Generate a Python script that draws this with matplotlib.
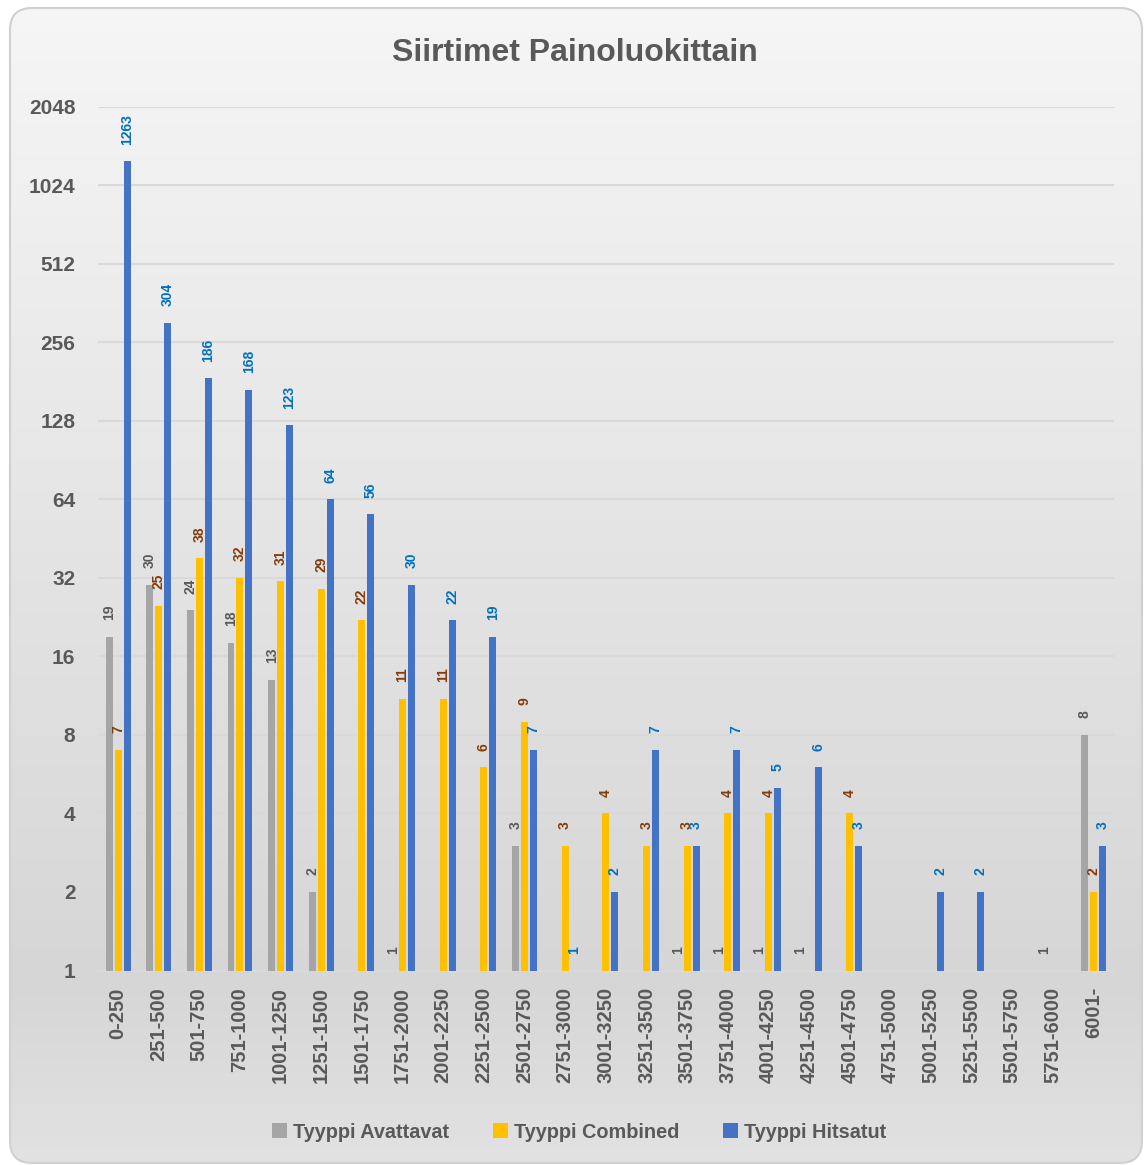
import numpy as np
import matplotlib
matplotlib.use("Agg")
import matplotlib.pyplot as plt
from matplotlib.patches import FancyBboxPatch, Patch

plt.rcParams['font.family'] = ['Liberation Sans', 'DejaVu Sans']

categories = ['0-250', '251-500', '501-750', '751-1000', '1001-1250', '1251-1500',
              '1501-1750', '1751-2000', '2001-2250', '2251-2500', '2501-2750',
              '2751-3000', '3001-3250', '3251-3500', '3501-3750', '3751-4000',
              '4001-4250', '4251-4500', '4501-4750', '4751-5000', '5001-5250',
              '5251-5500', '5501-5750', '5751-6000', '6001-']
avattavat = [19, 30, 24, 18, 13, 2, 0, 1, 0, 0, 3, 0, 0, 0, 1, 1, 1, 1, 0, 0, 0, 0, 0, 1, 8]
combined = [7, 25, 38, 32, 31, 29, 22, 11, 11, 6, 9, 3, 4, 3, 3, 4, 4, 0, 4, 0, 0, 0, 0, 0, 2]
hitsatut = [1263, 304, 186, 168, 123, 64, 56, 30, 22, 19, 7, 1, 2, 7, 3, 7, 5, 6, 3, 0, 2, 2, 0, 0, 3]
yticks = [1, 2, 4, 8, 16, 32, 64, 128, 256, 512, 1024, 2048]

series = [
    ('Tyyppi Avattavat', avattavat, '#A5A5A5', '#595959'),
    ('Tyyppi Combined', combined, '#FFC000', '#843C0C'),
    ('Tyyppi Hitsatut', hitsatut, '#4472C4', '#0070C0'),
]

W, H = 1144, 1165
fig = plt.figure(figsize=(W / 100, H / 100), dpi=100)
fig.patch.set_facecolor('white')

# rounded chart background with vertical grey gradient
bg = fig.add_axes([0, 0, 1, 1], zorder=-10)
bg.set_xlim(0, W)
bg.set_ylim(H, 0)
bg.axis('off')
rows = np.arange(H)
shade = np.interp(rows, [0, 980, H], [246, 214, 226]) / 255.0
grad = np.repeat(shade[:, None, None], 3, axis=2)
box = FancyBboxPatch((10, 8), W - 12, H - 10, boxstyle='round,pad=0,rounding_size=22',
                     facecolor='none', edgecolor='#D0D0D0', linewidth=1.5)
bg.add_patch(box)
im = bg.imshow(grad, extent=[0, W, H, 0], aspect='auto', interpolation='bilinear')
im.set_clip_path(box)

ax = fig.add_axes([97.7 / W, 1 - 970.5 / H, (1114 - 97.7) / W, (970.5 - 106.5) / H])
ax.set_facecolor('none')
ax.set_yscale('log', base=2)
ax.set_ylim(1, 2048)
ax.set_xlim(-0.5, len(categories) - 0.5)

x = np.arange(len(categories))
bw = 0.172
step = 0.221
for i, (name, vals, col, lcol) in enumerate(series):
    xs = x + (i - 1) * step
    for xi, v in zip(xs, vals):
        if v <= 0:
            continue
        ax.bar(xi, v - 1, bottom=1, width=bw, color=col, zorder=3)
        ax.annotate(str(v), (xi, v), xytext=(0, 12), textcoords='offset points',
                    rotation=90, ha='center', va='bottom', fontsize=10,
                    fontweight='bold', color=lcol, zorder=4)

ax.set_yticks(yticks)
ax.set_yticklabels([str(t) for t in yticks])
ax.yaxis.set_minor_locator(plt.NullLocator())
ax.set_xticks(x)
ax.set_xticklabels(categories, rotation=90)
ax.tick_params(axis='x', length=0, pad=12, labelsize=14.5, labelcolor='#595959')
ax.tick_params(axis='y', length=0, pad=16, labelsize=15, labelcolor='#595959')
for lab in ax.get_xticklabels() + ax.get_yticklabels():
    lab.set_fontweight('bold')

ax.grid(axis='y', color='#D9D9D9', linewidth=1.5, zorder=0)
for s in ['top', 'right', 'left']:
    ax.spines[s].set_visible(False)
ax.spines['bottom'].set_color('#D9D9D9')
ax.spines['bottom'].set_linewidth(1.5)

fig.text(575 / W, 1 - 53 / H, 'Siirtimet Painoluokittain', ha='center', va='center',
         fontsize=23, fontweight='bold', color='#595959')

handles = [Patch(facecolor=c, label=n) for n, _, c, _ in series]
fig.legend(handles=handles, loc='center', bbox_to_anchor=(579 / W, 1 - 1132 / H),
           ncol=3, frameon=False, handlelength=0.75, handleheight=0.75,
           handletextpad=0.3, columnspacing=2.2,
           prop={'weight': 'bold', 'size': 14.3})
for t in fig.legends[0].get_texts():
    t.set_color('#595959')

fig.savefig('out.png', dpi=100)
